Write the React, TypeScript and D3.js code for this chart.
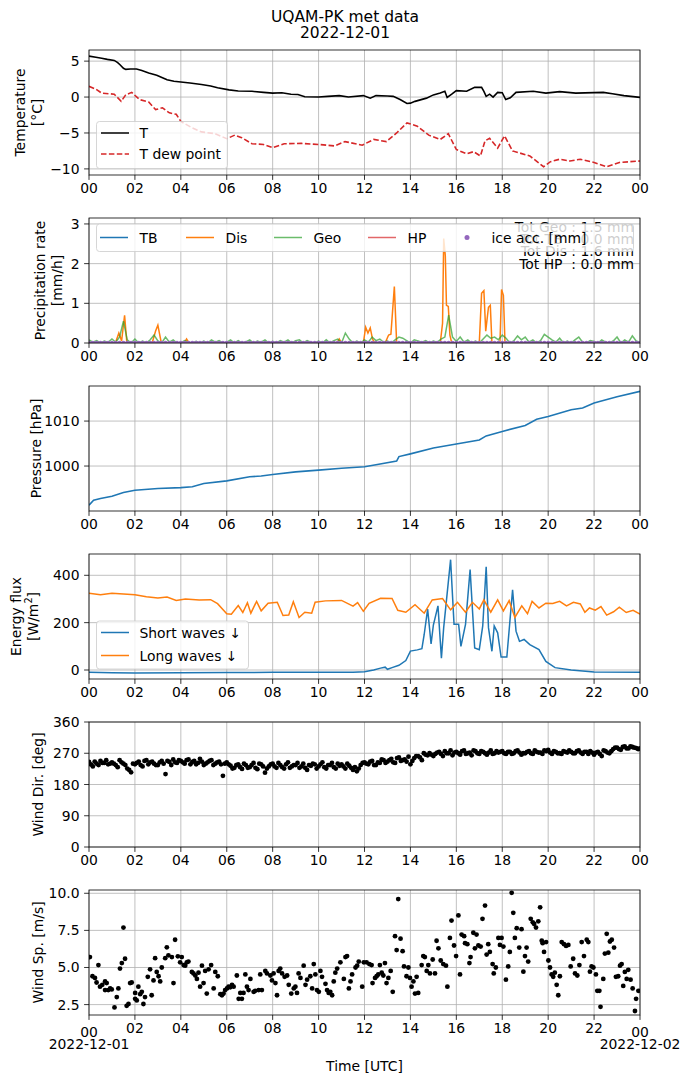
import React from 'react';
import * as d3 from 'd3';

// ---------------- DATA ----------------
const hourTicks = [0, 2, 4, 6, 8, 10, 12, 14, 16, 18, 20, 22, 24];
const hourLabels = ['00', '02', '04', '06', '08', '10', '12', '14', '16', '18', '20', '22', '00'];

// Temperature [°C] (hour, value)
const tempT: [number, number][] = [[0,5.7],[0.3,5.55],[0.55,5.4],[0.8,5.25],[1.1,5.1],[1.25,4.8],[1.35,4.5],[1.5,4.0],[1.6,3.85],[1.8,3.9],[2.07,3.9],[2.3,3.7],[2.6,3.35],[2.95,3.05],[3.2,2.7],[3.4,2.4],[3.7,2.2],[4.0,2.1],[4.4,1.95],[4.9,1.75],[5.3,1.55],[5.6,1.3],[6.1,1.0],[6.5,0.85],[7.1,0.8],[7.6,0.65],[8.0,0.55],[8.4,0.6],[8.8,0.4],[9.1,0.35],[9.4,0.05],[10,0.0],[10.4,0.1],[10.9,0.2],[11.3,0.0],[11.95,0.2],[12.25,-0.15],[12.5,0.2],[13.0,0.15],[13.25,0.1],[13.55,-0.35],[13.85,-0.9],[14.0,-0.85],[14.2,-0.6],[14.7,-0.15],[15.0,0.3],[15.3,0.55],[15.5,0.8],[15.6,-0.05],[15.8,0.4],[16.0,0.9],[16.45,0.8],[16.8,1.35],[17.1,1.35],[17.2,0.8],[17.3,0.1],[17.45,0.4],[17.6,0.0],[17.8,0.65],[18.0,0.6],[18.15,-0.35],[18.35,-0.1],[18.6,0.65],[19.35,0.8],[19.9,0.55],[20.5,0.75],[21.2,0.55],[22.4,0.65],[22.8,0.45],[23.3,0.2],[24,-0.05]];
const tempDew: [number, number][] = [[0,1.5],[0.3,1.1],[0.55,0.55],[0.9,0.45],[1.1,0.4],[1.4,-0.6],[1.6,0.3],[1.86,0.65],[2.2,-0.35],[2.6,-0.7],[2.9,-1.75],[3.2,-1.5],[3.5,-2.2],[3.8,-2.4],[4.0,-3.4],[4.5,-4.3],[4.9,-4.85],[5.5,-5.1],[6.0,-5.8],[6.35,-5.3],[6.65,-5.65],[7.1,-6.5],[7.6,-6.6],[8.0,-7.05],[8.5,-6.5],[9.25,-6.45],[10.0,-6.6],[10.7,-6.8],[11.15,-6.2],[11.9,-6.7],[12.4,-5.9],[12.95,-6.2],[13.4,-5.0],[13.85,-3.6],[14.3,-4.05],[14.8,-5.3],[15.3,-5.9],[15.65,-5.1],[16.0,-7.3],[16.45,-7.9],[16.75,-7.6],[17.05,-8.2],[17.25,-6.1],[17.45,-5.75],[17.8,-7.1],[18.1,-5.4],[18.45,-7.5],[19.2,-8.2],[19.8,-9.7],[20.1,-9.0],[20.5,-8.65],[20.95,-8.9],[21.4,-8.65],[22.0,-9.1],[22.55,-9.7],[23.1,-9.1],[24,-8.9]];

// Precipitation rate [mm/h]
const disRate: [number, number][] = [[0,0],[1.15,0],[1.3,0.25],[1.42,0.05],[1.55,0.7],[1.65,0],[2.75,0],[2.9,0.3],[3.0,0.45],[3.15,0],[4.15,0],[4.25,0.1],[4.35,0],[10.8,0],[10.9,0.1],[11.0,0],[11.95,0],[12.05,0.4],[12.15,0.25],[12.25,0.38],[12.35,0.1],[12.45,0],[12.9,0],[13.05,0.2],[13.15,0.22],[13.3,1.42],[13.4,0],[15.3,0],[15.4,0.5],[15.45,2.63],[15.52,2.2],[15.57,0.95],[15.65,0.92],[15.72,0.2],[15.8,0],[17.0,0],[17.1,1.25],[17.2,1.32],[17.28,0.3],[17.4,0.9],[17.48,0.95],[17.55,0],[17.9,0],[17.97,1.35],[18.05,1.2],[18.12,0],[24,0]];
// Geonor, every 10 minutes from 00:00
const geoRate = [
  0.08,0.02,0.06,0,0.05,0.02, 0.10,0.02,0.15,0.55,0.08,0, 0.10,0,0.05,0,0.08,0.20, 0.05,0,0.15,0.02,0.08,0,
  0,0.06,0.02,0,0.04,0, 0.05,0,0.08,0.02,0.06,0, 0.02,0.08,0,0.06,0,0.03, 0.08,0,0.05,0.02,0.08,0,
  0.04,0,0.06,0.02,0.08,0, 0.06,0.08,0,0.06,0.02,0, 0.05,0,0.08,0,0.06,0.10, 0,0.25,0.10,0,0.05,0,
  0.08,0.02,0.15,0.06,0.10,0.02, 0.05,0,0.08,0.15,0.12,0.06, 0,0.08,0.05,0.02,0.06,0, 0.05,0.02,0.10,0.15,0.70,0.15,
  0.04,0.15,0.02,0.08,0,0.05, 0,0.10,0.20,0.12,0.15,0.08, 0.20,0.12,0,0.05,0.18,0.08, 0.15,0.02,0.08,0,0.06,0.22,
  0.15,0.08,0.02,0.12,0,0.05, 0,0.08,0.15,0.02,0,0.06, 0.04,0,0.08,0.02,0,0.05, 0.15,0,0.08,0.02,0.18,0.05, 0.02];
const tbRate: [number, number][] = [[0,0],[24,0]];
const hpRate: [number, number][] = [[0,0],[24,0]];
const precipTotals = ['Tot Geo : 1.5 mm', 'Tot TB  : 0.0 mm', 'Tot Dis : 1.6 mm', 'Tot HP  : 0.0 mm'];

// Pressure [hPa]
const pressure: [number, number][] = [[0,991.3],[0.2,992.4],[0.5,992.8],[1,993.3],[1.5,994.1],[2,994.6],[3,995.0],[4,995.2],[4.5,995.4],[5,996.1],[6,996.7],[7,997.6],[7.5,997.8],[8,998.1],[9,998.7],[10,999.1],[11,999.5],[12,999.85],[12.5,1000.3],[13.4,1001.1],[13.5,1002.1],[14,1002.7],[15,1004.0],[16,1004.9],[17,1005.8],[17.3,1006.7],[18,1007.7],[19,1009.0],[19.5,1010.4],[20,1011.0],[21,1012.5],[21.5,1012.9],[22,1014.0],[23,1015.4],[24,1016.6]];

// Energy flux [W/m2]
const shortWave: [number, number][] = [[0,-10],[1,-12],[2,-13],[4,-12],[6,-11],[8,-10],[10,-10],[11.5,-9],[12,-7],[12.4,0],[12.7,8],[12.9,12],[13.0,3],[13.2,10],[13.5,20],[13.8,40],[14.0,80],[14.3,85],[14.5,90],[14.6,150],[14.75,257],[14.9,110],[15.0,190],[15.2,271],[15.35,50],[15.45,180],[15.75,466],[15.9,193],[16.1,193],[16.2,100],[16.4,193],[16.6,424],[16.8,93],[17.0,86],[17.15,186],[17.3,436],[17.4,179],[17.55,79],[17.65,186],[17.8,157],[17.95,55],[18.2,55],[18.45,339],[18.6,164],[18.75,121],[18.95,129],[19.2,107],[19.6,86],[19.9,36],[20.3,10],[21,0],[22,-8],[24,-10]];
const longWave: [number, number][] = [[0,324],[0.5,318],[1,324],[1.5,321],[2,318],[2.5,309],[3,304],[3.4,308],[3.8,294],[4.2,300],[4.8,296],[5.3,297],[5.6,280],[6.0,238],[6.2,236],[6.5,272],[6.7,243],[6.9,284],[7.05,240],[7.3,290],[7.5,250],[7.8,282],[8.2,286],[8.45,230],[8.7,232],[8.9,288],[9.15,222],[9.4,244],[9.7,240],[9.85,286],[10.3,292],[11.0,294],[11.5,270],[11.7,285],[11.95,248],[12.2,282],[12.7,303],[13.2,302],[13.45,252],[13.8,244],[14.2,276],[14.6,240],[14.95,296],[15.4,302],[15.75,254],[16.05,286],[16.4,244],[16.7,286],[17.0,258],[17.2,296],[17.5,244],[17.8,296],[18.05,250],[18.3,293],[18.55,222],[18.85,271],[19.1,238],[19.3,290],[19.6,262],[19.9,282],[20.2,281],[20.5,290],[20.8,271],[21.1,286],[21.4,279],[21.6,244],[21.8,262],[22.05,253],[22.3,268],[22.55,232],[22.85,246],[23.1,265],[23.4,243],[23.7,252],[24,236]];

// Wind direction [deg], every 10 minutes from 00:00
const windDir = [
  245,232,240,248,242,238, 244,236,250,240,226,215, 238,246,232,250,244,240, 236,248,210,245,252,242,
  248,240,252,245,238,254, 236,244,250,240,246,205, 244,234,228,238,225,236, 230,242,224,238,214,232,
  240,228,236,226,244,232, 236,228,240,222,234,238, 232,244,226,236,230,240, 238,226,234,222,218,236,
  244,238,248,236,242,250, 246,254,242,258,250,246, 238,256,262,250,266,270, 262,272,268,276,270,264,
  274,266,278,270,264,276, 268,274,266,278,270,272, 276,268,274,270,278,266, 270,276,268,274,272,278,
  280,268,274,270,276,272, 274,270,278,268,274,276, 266,274,262,276,270,282, 286,280,290,284,288,285, 284];
// Wind direction [deg], every 10 minutes from 00:05
const windDirB = [
  238,246,236,242,250,240, 240,230,244,236,222,240, 242,236,248,238,246,236, 244,240,248,236,244,250,
  244,250,238,248,242,246, 240,248,236,244,238,240, 238,226,236,230,240,228, 236,228,240,232,226,238,
  232,242,230,238,228,236, 242,232,228,236,240,226, 238,230,236,242,226,234, 232,240,228,230,226,242,
  240,246,236,244,252,242, 250,244,256,248,252,260, 248,262,258,270,264,266, 268,274,262,270,278,272,
  270,276,268,272,278,270, 276,270,272,268,276,274, 270,274,268,276,272,270, 274,270,278,272,268,276,
  272,276,270,268,274,278, 270,276,272,274,268,272, 272,268,278,272,276,286, 282,288,284,290,286,282];

// Wind speed [m/s] (hour, value)
const windSpeed: [number, number][] = [[0.04,5.70],[0.15,4.41],[0.26,4.30],[0.33,3.99],[0.41,5.16],[0.48,3.71],[0.58,3.83],[0.70,4.06],[0.70,3.48],[0.77,3.95],[0.84,3.48],[0.92,3.59],[0.99,3.52],[1.11,2.31],[1.21,3.01],[1.28,3.59],[1.35,4.93],[1.43,5.30],[1.50,7.69],[1.57,5.59],[1.64,2.42],[1.72,2.54],[1.79,3.95],[1.86,3.99],[2.01,2.89],[2.01,3.29],[2.08,2.78],[2.15,3.71],[2.23,3.20],[2.30,3.36],[2.37,2.54],[2.44,3.01],[2.56,4.37],[2.66,4.88],[2.73,3.13],[2.81,4.13],[2.88,5.63],[2.95,4.70],[3.03,4.41],[3.10,4.06],[3.17,5.00],[3.32,5.63],[3.39,6.36],[3.46,5.82],[3.61,5.70],[3.68,3.95],[3.75,6.87],[3.87,5.75],[3.97,5.35],[4.04,5.70],[4.12,5.16],[4.19,5.12],[4.26,5.35],[4.33,5.40],[4.48,4.70],[4.55,4.60],[4.63,4.46],[4.70,4.23],[4.77,4.65],[4.84,3.71],[4.92,5.12],[4.99,3.95],[5.06,4.77],[5.13,3.24],[5.21,4.88],[5.32,5.16],[5.43,3.59],[5.50,4.70],[5.61,4.41],[5.72,3.20],[5.79,3.13],[5.86,3.24],[5.93,3.48],[6.01,3.59],[6.08,3.71],[6.15,3.67],[6.23,3.83],[6.30,3.71],[6.44,4.46],[6.52,2.89],[6.59,3.29],[6.66,2.89],[6.73,3.29],[6.81,4.53],[6.88,3.71],[6.95,3.48],[7.03,4.23],[7.17,3.36],[7.24,3.43],[7.39,3.48],[7.46,4.53],[7.53,3.48],[7.68,4.77],[7.75,4.60],[7.90,4.46],[7.97,4.13],[8.04,4.60],[8.12,3.95],[8.19,3.13],[8.26,4.77],[8.33,4.93],[8.41,4.60],[8.52,4.37],[8.63,4.46],[8.70,3.83],[8.81,3.24],[8.92,3.59],[8.99,3.71],[9.06,3.29],[9.13,4.60],[9.21,4.30],[9.35,5.12],[9.43,3.83],[9.50,4.18],[9.64,4.41],[9.72,3.59],[9.79,5.23],[9.86,4.53],[9.93,3.48],[10.01,3.36],[10.08,4.77],[10.15,4.37],[10.30,3.90],[10.37,3.48],[10.44,3.29],[10.51,3.36],[10.59,3.13],[10.66,4.06],[10.73,4.65],[10.81,4.93],[10.95,5.35],[11.10,4.23],[11.17,5.70],[11.24,5.77],[11.32,3.59],[11.39,4.06],[11.46,4.53],[11.61,5.00],[11.68,5.12],[11.75,5.40],[11.90,3.71],[11.97,5.35],[12.09,5.35],[12.21,5.23],[12.31,5.16],[12.35,3.95],[12.46,4.30],[12.53,4.41],[12.60,4.53],[12.67,5.16],[12.75,4.65],[12.82,4.46],[12.89,5.30],[12.96,3.95],[13.04,4.30],[13.14,4.77],[13.23,3.36],[13.33,7.11],[13.40,6.17],[13.47,9.61],[13.57,6.94],[13.66,6.10],[13.72,5.07],[13.83,4.41],[13.91,5.00],[13.98,4.30],[14.05,3.71],[14.13,4.06],[14.20,3.24],[14.27,4.37],[14.34,3.29],[14.49,5.16],[14.56,5.77],[14.63,5.70],[14.71,4.77],[14.78,5.16],[14.85,4.60],[14.97,5.54],[15.07,4.60],[15.14,6.80],[15.22,6.29],[15.32,5.47],[15.43,5.23],[15.55,5.12],[15.61,3.71],[15.72,6.99],[15.79,8.16],[15.90,6.48],[15.99,5.77],[16.09,8.51],[16.16,4.53],[16.23,7.22],[16.34,7.11],[16.38,6.64],[16.48,6.57],[16.57,5.30],[16.62,5.70],[16.74,7.34],[16.81,6.29],[16.88,7.22],[16.96,6.48],[17.06,6.41],[17.14,8.28],[17.25,9.17],[17.32,5.87],[17.39,6.57],[17.46,6.05],[17.58,5.23],[17.63,4.60],[17.72,5.00],[17.83,6.99],[17.90,6.52],[17.97,6.99],[18.05,6.41],[18.16,4.18],[18.26,5.07],[18.33,6.05],[18.41,10.03],[18.48,8.68],[18.55,6.99],[18.63,7.65],[18.74,6.34],[18.84,7.58],[18.92,4.72],[18.99,5.77],[19.06,6.34],[19.13,5.40],[19.24,8.28],[19.33,8.04],[19.39,7.93],[19.47,7.69],[19.57,8.11],[19.65,9.05],[19.72,6.80],[19.76,6.64],[19.82,6.05],[19.91,6.71],[20.01,5.47],[20.08,5.00],[20.15,4.53],[20.22,4.37],[20.29,4.65],[20.37,3.83],[20.44,3.13],[20.51,4.41],[20.59,6.71],[20.69,6.57],[20.78,6.45],[20.88,6.52],[20.98,5.07],[21.09,5.59],[21.17,4.60],[21.27,4.46],[21.36,5.16],[21.46,6.71],[21.56,5.77],[21.68,6.87],[21.75,6.71],[21.82,4.72],[21.89,5.07],[21.97,5.00],[22.08,4.53],[22.14,3.43],[22.23,3.43],[22.28,2.35],[22.40,4.23],[22.47,5.94],[22.55,7.27],[22.62,6.00],[22.69,6.75],[22.77,6.87],[22.87,6.34],[22.95,4.37],[23.05,4.41],[23.13,5.12],[23.20,5.23],[23.27,3.76],[23.34,4.70],[23.42,4.23],[23.49,4.84],[23.59,4.18],[23.68,3.59],[23.78,2.07],[23.83,2.89],[23.93,3.43]];

// ---------------- LAYOUT ----------------
const W = 690, H = 1083;
const X0 = 89, X1 = 640;
const PH = 125;
const FONT = 'DejaVu Sans';
const FS = 13.9;
const GRID = '#b0b0b0';
const C = { blue: '#1f77b4', orange: '#ff7f0e', green: '#2ca02c', red: '#d62728', purple: '#9467bd' };

const x = d3.scaleLinear().domain([0, 24]).range([X0, X1]);
const minus = (s: string) => s.replace('-', '\u2212');

type YS = d3.ScaleLinear<number, number>;

function Panel(props: {
  id: string; top: number; yDomain: [number, number]; yTicks: number[]; yFmt: (v: number) => string;
  ylabel: React.ReactNode; children: (y: YS) => React.ReactNode; overlay?: (y: YS) => React.ReactNode; last?: boolean;
}) {
  const { id, top, yDomain, yTicks, yFmt, ylabel, children, overlay, last } = props;
  const bottom = top + PH;
  const y = d3.scaleLinear().domain(yDomain).range([bottom, top]);
  return (
    <g>
      <defs>
        <clipPath id={id}><rect x={X0} y={top} width={X1 - X0} height={PH} /></clipPath>
      </defs>
      {hourTicks.map((h, i) => (
        <line key={'gx' + i} x1={x(h)} x2={x(h)} y1={top} y2={bottom} stroke={GRID} strokeWidth={0.8} />
      ))}
      {yTicks.map((v, i) => (
        <line key={'gy' + i} x1={X0} x2={X1} y1={y(v)} y2={y(v)} stroke={GRID} strokeWidth={0.8} />
      ))}
      <g clipPath={`url(#${id})`}>{children(y)}</g>
      <rect x={X0} y={top} width={X1 - X0} height={PH} fill="none" stroke="#000" strokeWidth={0.8} />
      {hourTicks.map((h, i) => (
        <g key={'tx' + i}>
          <line x1={x(h)} x2={x(h)} y1={bottom} y2={bottom + 4.9} stroke="#000" strokeWidth={0.8} />
          <text x={x(h)} y={bottom + 12.5 + (last && (i === 0 || i === hourTicks.length - 1) ? 4 : 0)} textAnchor="middle" dominantBaseline="central" fontSize={FS}>{hourLabels[i]}</text>
        </g>
      ))}
      {yTicks.map((v, i) => (
        <g key={'ty' + i}>
          <line x1={X0 - 4.9} x2={X0} y1={y(v)} y2={y(v)} stroke="#000" strokeWidth={0.8} />
          <text x={X0 - 9.5} y={y(v)} textAnchor="end" dominantBaseline="central" fontSize={FS}>{yFmt(v)}</text>
        </g>
      ))}
      {ylabel}
      {overlay && overlay(y)}
    </g>
  );
}

function YLabel({ cx, cy, lines }: { cx: number[]; cy: number; lines: React.ReactNode[] }) {
  return (
    <g>
      {lines.map((l, i) => (
        <text key={i} transform={`translate(${cx[i]},${cy}) rotate(-90)`} textAnchor="middle" dominantBaseline="central" fontSize={FS}>{l}</text>
      ))}
    </g>
  );
}

function LegendBox({ x0, y0, w, h }: { x0: number; y0: number; w: number; h: number }) {
  return <rect x={x0} y={y0} width={w} height={h} rx={3} fill="#fff" fillOpacity={0.8} stroke="#cccccc" strokeWidth={0.8} />;
}

export default function App() {
  const tops = [50, 218, 386, 554, 722, 890];
  const pathOf = (y: YS, data: [number, number][]) =>
    d3.line<[number, number]>().x(d => x(d[0])).y(d => y(d[1]))(data) || '';
  const geoPts: [number, number][] = geoRate.map((v, i) => [i / 6, v]);
  const icePts: [number, number][] = geoRate.map((_, i) => [i / 6, 0]);
  const dirPts: [number, number][] = [
    ...windDir.map((v, i) => [i / 6, v] as [number, number]),
    ...windDirB.map((v, i) => [i / 6 + 1 / 12, v] as [number, number]),
  ];

  return (
    <svg width={W} height={H} style={{ position: 'absolute', left: 0, top: 0, background: '#fff' }} fontFamily={FONT}>
      <rect x={0} y={0} width={W} height={H} fill="#fff" />
      <text x={345} y={17} textAnchor="middle" dominantBaseline="central" fontSize={15.5}>UQAM-PK met data</text>
      <text x={345} y={33} textAnchor="middle" dominantBaseline="central" fontSize={15.5}>2022-12-01</text>

      {/* Temperature */}
      <Panel id="c1" top={tops[0]} yDomain={[-10.85, 6.55]} yTicks={[-10, -5, 0, 5]} yFmt={v => minus(String(v))}
        ylabel={<YLabel cx={[20, 37]} cy={tops[0] + PH / 2} lines={['Temperature', '[°C]']} />}
        overlay={() => (
          <g>
            <LegendBox x0={96.5} y0={121.5} w={131} h={47} />
            <line x1={101} x2={129} y1={133} y2={133} stroke="#000" strokeWidth={1.5} />
            <text x={139.5} y={133} dominantBaseline="central" fontSize={FS}>T</text>
            <line x1={101} x2={129} y1={154} y2={154} stroke={C.red} strokeWidth={1.5} strokeDasharray="5.5,2.4" />
            <text x={139.5} y={154} dominantBaseline="central" fontSize={FS}>T dew point</text>
          </g>
        )}>
        {y => (
          <g fill="none">
            <path d={pathOf(y, tempT)} stroke="#000" strokeWidth={1.6} />
            <path d={pathOf(y, tempDew)} stroke={C.red} strokeWidth={1.6} strokeDasharray="5.5,2.4" />
          </g>
        )}
      </Panel>

      {/* Precipitation */}
      <Panel id="c2" top={tops[1]} yDomain={[0, 3.15]} yTicks={[0, 1, 2, 3]} yFmt={v => String(v)}
        ylabel={<YLabel cx={[40, 57]} cy={tops[1] + PH / 2} lines={['Precipitation rate', '[mm/h]']} />}
        overlay={() => (
          <g>
            {precipTotals.map((t, i) => (
              <text key={i} x={634} y={226.5 + i * 12.4} textAnchor="end" dominantBaseline="central" fontSize={13.9} style={{ whiteSpace: 'pre' }}>{t}</text>
            ))}
            <LegendBox x0={96.5} y0={224} w={537} h={27.5} />
            {[
              { label: 'TB', color: C.blue, op: 1, lx: 100 },
              { label: 'Dis', color: C.orange, op: 1, lx: 186 },
              { label: 'Geo', color: C.green, op: 0.7, lx: 274 },
              { label: 'HP', color: C.red, op: 0.7, lx: 368 },
            ].map((e, i) => (
              <g key={i}>
                <line x1={e.lx} x2={e.lx + 28} y1={237.5} y2={237.5} stroke={e.color} strokeOpacity={e.op} strokeWidth={1.5} />
                <text x={e.lx + 39.5} y={237.5} dominantBaseline="central" fontSize={FS}>{e.label}</text>
              </g>
            ))}
            <circle cx={467} cy={237.5} r={2.5} fill={C.purple} />
            <text x={491.5} y={237.5} dominantBaseline="central" fontSize={FS}>ice acc. [mm]</text>
          </g>
        )}>
        {y => (
          <g fill="none">
            <path d={pathOf(y, tbRate)} stroke={C.blue} strokeWidth={1.5} />
            <path d={pathOf(y, disRate)} stroke={C.orange} strokeWidth={1.5} />
            <path d={pathOf(y, geoPts)} stroke={C.green} strokeOpacity={0.7} strokeWidth={1.5} />
            <path d={pathOf(y, hpRate)} stroke={C.red} strokeOpacity={0.7} strokeWidth={1.5} />
            {icePts.map((d, i) => <circle key={i} cx={x(d[0])} cy={y(d[1])} r={2.2} fill={C.purple} />)}
          </g>
        )}
      </Panel>

      {/* Pressure */}
      <Panel id="c3" top={tops[2]} yDomain={[990.0, 1017.8]} yTicks={[1000, 1010]} yFmt={v => String(v)}
        ylabel={<YLabel cx={[36]} cy={tops[2] + PH / 2} lines={['Pressure [hPa]']} />}>
        {y => <path d={pathOf(y, pressure)} fill="none" stroke={C.blue} strokeWidth={1.6} />}
      </Panel>

      {/* Energy flux */}
      <Panel id="c4" top={tops[3]} yDomain={[-38, 490]} yTicks={[0, 200, 400]} yFmt={v => String(v)}
        ylabel={<YLabel cx={[16, 33]} cy={tops[3] + PH / 2} lines={['Energy flux', <tspan key="u">[W/m<tspan dy={-5} fontSize={9.7}>2</tspan><tspan dy={5}>]</tspan></tspan>]} />}
        overlay={() => (
          <g>
            <LegendBox x0={96.5} y0={621} w={152} h={48} />
            <line x1={101} x2={129} y1={632.5} y2={632.5} stroke={C.blue} strokeWidth={1.5} />
            <text x={139.5} y={632.5} dominantBaseline="central" fontSize={FS}>Short waves ↓</text>
            <line x1={101} x2={129} y1={655.5} y2={655.5} stroke={C.orange} strokeWidth={1.5} />
            <text x={139.5} y={655.5} dominantBaseline="central" fontSize={FS}>Long waves ↓</text>
          </g>
        )}>
        {y => (
          <g fill="none">
            <path d={pathOf(y, shortWave)} stroke={C.blue} strokeWidth={1.5} />
            <path d={pathOf(y, longWave)} stroke={C.orange} strokeWidth={1.5} />
          </g>
        )}
      </Panel>

      {/* Wind direction */}
      <Panel id="c5" top={tops[4]} yDomain={[0, 360]} yTicks={[0, 90, 180, 270, 360]} yFmt={v => String(v)}
        ylabel={<YLabel cx={[38]} cy={tops[4] + PH / 2} lines={['Wind Dir. [deg]']} />}>
        {y => <g>{dirPts.map((d, i) => <circle key={i} cx={x(d[0])} cy={y(d[1])} r={2.4} fill="#000" />)}</g>}
      </Panel>

      {/* Wind speed */}
      <Panel id="c6" top={tops[5]} yDomain={[1.8, 10.22]} yTicks={[2.5, 5, 7.5, 10]} yFmt={v => d3.format('.1f')(v)} last
        ylabel={<YLabel cx={[38]} cy={tops[5] + PH / 2} lines={['Wind Sp. [m/s]']} />}>
        {y => <g>{windSpeed.map((d, i) => <circle key={i} cx={x(d[0])} cy={y(d[1])} r={2.4} fill="#000" />)}</g>}
      </Panel>

      <text x={x(0)} y={1043.5} textAnchor="middle" dominantBaseline="central" fontSize={FS}>2022-12-01</text>
      <text x={x(24)} y={1043.5} textAnchor="middle" dominantBaseline="central" fontSize={FS}>2022-12-02</text>
      <text x={(X0 + X1) / 2} y={1066} textAnchor="middle" dominantBaseline="central" fontSize={FS}>Time [UTC]</text>
    </svg>
  );
}
